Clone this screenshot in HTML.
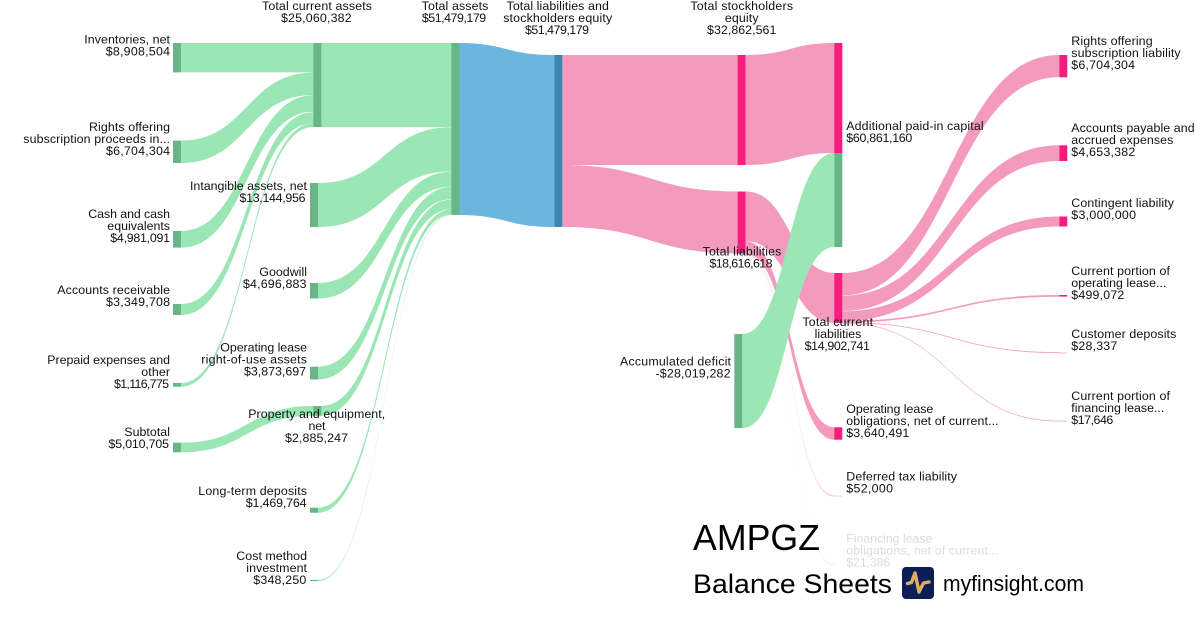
<!DOCTYPE html>
<html><head><meta charset="utf-8"><style>
html,body{margin:0;padding:0;background:#fff;width:1200px;height:630px;overflow:hidden}
svg{display:block}
text{font-family:"Liberation Sans",sans-serif;font-size:12.4px;fill:#111}
.e{text-anchor:end}.m{text-anchor:middle}
.g path{fill:#9ae6b4}
.p path{fill:#f49abd}
</style></head><body>
<svg width="1200" height="630" viewBox="0 0 1200 630" xmlns="http://www.w3.org/2000/svg">
<g class="p">
<path d="M562 55H738V165H562Z"/>
<path d="M746 55C790 55 790 43 834.5 43V153C790 153 790 165 746 165Z"/>
<path d="M562 165C650 165 650 191.5 738 191.5V253.4C650 253.4 650 227 562 227Z"/>
<path d="M746 191.5C790 191.5 790 273 834.5 273V322.7C790 322.7 790 241.2 746 241.2Z"/>
<path d="M746 241.4C790 241.4 790 427.3 834.5 427.3V439.7C790 439.7 790 253.5 746 253.5Z"/>
<path fill-opacity=".9" d="M746 253.4C790 253.4 790 495.7 834.5 495.7V496.5C790 496.5 790 254.1 746 254.1Z"/>
<path fill-opacity=".35" d="M746 254C790 254 790 564.7 834.5 564.7V565.4C790 565.4 790 254.6 746 254.6Z"/>
<path d="M842.3 273C951 273 951 55 1059.3 55V77.3C951 77.3 951 295.4 842.3 295.4Z"/>
<path d="M842.3 295.6C951 295.6 951 145.3 1059.3 145.3V161C951 161 951 311 842.3 311Z"/>
<path d="M842.3 311.2C951 311.2 951 216.5 1059.3 216.5V226.5C951 226.5 951 321 842.3 321Z"/>
<path d="M842.3 320.8C951 320.8 951 295 1059.3 295V296.7C951 296.7 951 322.5 842.3 322.5Z"/>
<path d="M842.3 322.2C951 322.2 951 352.2 1059.3 352.2V353C951 353 951 323 842.3 323Z"/>
<path d="M842.3 322.7C951 322.7 951 420.7 1059.3 420.7V421.4C951 421.4 951 323.4 842.3 323.4Z"/>
</g>
<path fill="#6ab6dc" d="M459 43C506 43 506 55 554.3 55V227C506 227 506 215 459 215Z"/>
<g class="g">
<path d="M181 43H313.3V72.4H181Z"/>
<path d="M181 140.6C247 140.6 247 72.6 313.3 72.6V95C247 95 247 163 181 163Z"/>
<path d="M181 231C247 231 247 95.2 313.3 95.2V111.7C247 111.7 247 247.6 181 247.6Z"/>
<path d="M181 304C247 304 247 112.3 313.3 112.3V123.2C247 123.2 247 315 181 315Z"/>
<path d="M181 383C247 383 247 123.4 313.3 123.4V127C247 127 247 386.7 181 386.7Z"/>
<path d="M181 442.7C247 442.7 247 406 313.3 406V415.7C247 415.7 247 452.3 181 452.3Z"/>
<path d="M321 43H451.3V127H321Z"/>
<path d="M318 183C385 183 385 127.3 451.3 127.3V171.4C385 171.4 385 227 318 227Z"/>
<path d="M318 283C385 283 385 171.6 451.3 171.6V186.7C385 186.7 385 298.5 318 298.5Z"/>
<path d="M318 366.7C385 366.7 385 187 451.3 187V199.4C385 199.4 385 379.5 318 379.5Z"/>
<path d="M321 406C386 406 386 199.7 451.3 199.7V209.2C386 209.2 386 415.7 321 415.7Z"/>
<path d="M318 507.7C385 507.7 385 209.4 451.3 209.4V214.2C385 214.2 385 512.7 318 512.7Z"/>
<path d="M318 580C385 580 385 214.2 451.3 214.2V215C385 215 385 581 318 581Z"/>
<path d="M742.3 334C788 334 788 153 834.3 153V247C788 247 788 428 742.3 428Z"/>
</g>
<g fill="#68b587">
<rect x="173" y="43" width="8" height="29.4"/>
<rect x="173" y="140.6" width="8" height="22.4"/>
<rect x="173" y="231" width="8" height="16.6"/>
<rect x="173" y="304" width="8" height="11"/>
<rect x="173" y="383" width="8" height="3.7"/>
<rect x="173" y="442.7" width="8" height="9.6"/>
<rect x="313.3" y="43" width="8" height="84"/>
<rect x="310" y="183" width="8" height="44"/>
<rect x="310" y="283" width="8" height="15.5"/>
<rect x="310" y="366.7" width="8" height="12.8"/>
<rect x="313.3" y="406" width="8" height="9.7"/>
<rect x="310" y="507.7" width="8" height="5"/>
<rect x="310" y="580" width="8" height="1.1"/>
<rect x="451.3" y="43" width="8" height="172"/>
<rect x="734.3" y="334" width="8" height="94"/>
<rect x="834.3" y="153" width="8" height="94"/>
</g>
<rect x="554.3" y="55" width="8" height="172" fill="#3a86ae"/>
<g fill="#f91c7f">
<rect x="737.7" y="55" width="8" height="110"/>
<rect x="737.7" y="191.5" width="8" height="62"/>
<rect x="834.3" y="43" width="8" height="110"/>
<rect x="834.3" y="273" width="8" height="50"/>
<rect x="834.3" y="427.3" width="8" height="12.4"/>
<rect x="1059.3" y="55" width="8" height="22.3"/>
<rect x="1059.3" y="145.3" width="8" height="15.7"/>
<rect x="1059.3" y="216.5" width="8" height="10"/>
<rect x="1059.3" y="295" width="8" height="1.6"/>
</g>
<rect x="1059.3" y="352.5" width="8" height="1" fill="#f9a" opacity=".7"/>
<rect x="1059.3" y="420.5" width="8" height="1" fill="#f9a" opacity=".7"/>
<rect x="834.3" y="495.7" width="8" height=".7" fill="#f9a" opacity=".7"/>
<g class="e">
<text x="170" y="43.5" textLength="85.7">Inventories, net</text>
<text x="170" y="55.5" textLength="64.3">$8,908,504</text>
<text x="170" y="131" textLength="81">Rights offering</text>
<text x="170" y="143" textLength="146.7">subscription proceeds in...</text>
<text x="170" y="155" textLength="64">$6,704,304</text>
<text x="170" y="218" textLength="81.7">Cash and cash</text>
<text x="170" y="230" textLength="62.7">equivalents</text>
<text x="170" y="242" textLength="59.7">$4,981,091</text>
<text x="170" y="294" textLength="112.7">Accounts receivable</text>
<text x="170" y="306" textLength="64">$3,349,708</text>
<text x="170" y="364" textLength="122.7">Prepaid expenses and</text>
<text x="170" y="376" textLength="28.7">other</text>
<text x="169" y="388" textLength="55">$1,116,775</text>
<text x="170" y="436" textLength="45.7">Subtotal</text>
<text x="169" y="448" textLength="60.5">$5,010,705</text>
<text x="307" y="190" textLength="117">Intangible assets, net</text>
<text x="305.5" y="202" textLength="66">$13,144,956</text>
<text x="307" y="276" textLength="47.7">Goodwill</text>
<text x="306.5" y="288" textLength="63.5">$4,696,883</text>
<text x="307" y="351.7" textLength="86.7">Operating lease</text>
<text x="307" y="363.7" textLength="105.7">right-of-use assets</text>
<text x="306" y="375.7" textLength="62">$3,873,697</text>
<text x="307" y="495" textLength="108.7">Long-term deposits</text>
<text x="306.5" y="507" textLength="60.7">$1,469,764</text>
<text x="307" y="560" textLength="70.7">Cost method</text>
<text x="307" y="572" textLength="60.7">investment</text>
<text x="306.3" y="584" textLength="53">$348,250</text>
<text x="731" y="365.7" textLength="111">Accumulated deficit</text>
<text x="730.5" y="377.7" textLength="75">-$28,019,282</text>
</g>
<g class="m">
<text x="317" y="10" textLength="110">Total current assets</text>
<text x="316.3" y="22" textLength="70.7">$25,060,382</text>
<text x="316.7" y="418" textLength="137">Property and equipment,</text>
<text x="317" y="430" textLength="17">net</text>
<text x="316.5" y="442" textLength="63">$2,885,247</text>
<text x="455" y="10" textLength="66.7">Total assets</text>
<text x="454" y="22" textLength="64.3">$51,479,179</text>
<text x="557.7" y="10" textLength="102.3">Total liabilities and</text>
<text x="557.7" y="22" textLength="109">stockholders equity</text>
<text x="557" y="34" textLength="64">$51,479,179</text>
<text x="741.7" y="10" textLength="102.7">Total stockholders</text>
<text x="741.7" y="22" textLength="33.7">equity</text>
<text x="741.7" y="34" textLength="69.3">$32,862,561</text>
<text x="742" y="255.5" textLength="78.7">Total liabilities</text>
<text x="741" y="267.5" textLength="63">$18,616,618</text>
<text x="837.7" y="326" textLength="70.7">Total current</text>
<text x="838" y="338" textLength="46.7">liabilities</text>
<text x="837.3" y="350" textLength="65.3">$14,902,741</text>
</g>
<text x="846.3" y="130" textLength="137.3">Additional paid-in capital</text>
<text x="846.3" y="142" textLength="66">$60,861,160</text>
<text x="846.3" y="413" textLength="87">Operating lease</text>
<text x="846.3" y="425" textLength="152.3">obligations, net of current...</text>
<text x="846.3" y="437" textLength="63">$3,640,491</text>
<text x="846.3" y="480.7" textLength="110.7">Deferred tax liability</text>
<text x="846.3" y="492.7" textLength="46.7">$52,000</text>
<g style="opacity:.15">
<text x="846.3" y="542.7" textLength="86">Financing lease</text>
<text x="846.3" y="554.7" textLength="152.3">obligations, net of current...</text>
<text x="846.3" y="566.7" textLength="44">$21,386</text>
</g>
<text x="1071.3" y="45" textLength="81.3">Rights offering</text>
<text x="1071.3" y="57" textLength="109.3">subscription liability</text>
<text x="1071.3" y="69" textLength="63.7">$6,704,304</text>
<text x="1071.3" y="132" textLength="123.3">Accounts payable and</text>
<text x="1071.3" y="144" textLength="102">accrued expenses</text>
<text x="1071.3" y="156" textLength="64">$4,653,382</text>
<text x="1071.3" y="207" textLength="102.7">Contingent liability</text>
<text x="1071.3" y="219" textLength="64.7">$3,000,000</text>
<text x="1071.3" y="275" textLength="98.7">Current portion of</text>
<text x="1071.3" y="287" textLength="95">operating lease...</text>
<text x="1071.3" y="299" textLength="53">$499,072</text>
<text x="1071.3" y="338" textLength="105">Customer deposits</text>
<text x="1071.3" y="350" textLength="46">$28,337</text>
<text x="1071.3" y="400" textLength="98.7">Current portion of</text>
<text x="1071.3" y="412" textLength="93">financing lease...</text>
<text x="1071.3" y="424" textLength="42">$17,646</text>
<text x="693" y="550" textLength="127" lengthAdjust="spacingAndGlyphs" style="font-size:36px;fill:#000">AMPGZ</text>
<text x="693" y="593" textLength="199" lengthAdjust="spacingAndGlyphs" style="font-size:27px;fill:#000">Balance Sheets</text>
<rect x="902" y="567" width="32" height="32" rx="4" fill="#0b1f56"/>
<path d="M907.5 583.5L911.5 582.5L915 573L919 592L923.5 583L929 582" fill="none" stroke="#e2ad63" stroke-width="3.4" stroke-linejoin="round" stroke-linecap="round"/>
<text x="943" y="591" textLength="141" lengthAdjust="spacingAndGlyphs" style="font-size:22px;fill:#000">myfinsight.com</text>
</svg>
</body></html>
